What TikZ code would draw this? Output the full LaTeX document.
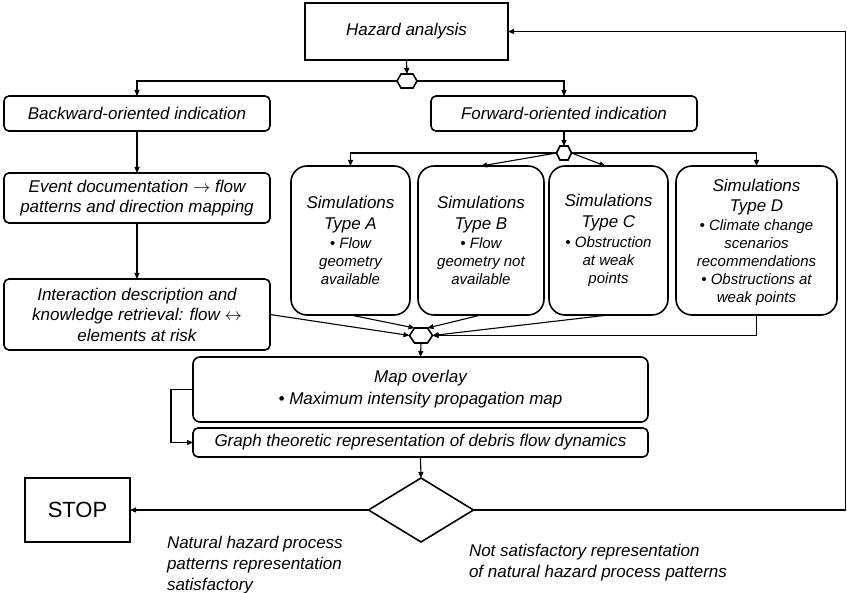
\documentclass[tikz,border=0pt]{standalone}
\usepackage{fontspec}
\setmainfont{Liberation Sans}
\usetikzlibrary{arrows.meta,shapes.geometric,calc}
\newcommand\lgtxt[1]{{\fontsize{17}{20}\selectfont #1}}
\begin{document}
\begin{tikzpicture}[x=1pt,y=-1pt,
  boxline/.style={line width=1.6pt},
  sqbox/.style={draw, boxline, inner sep=0pt, outer sep=0pt, align=center,
    font=\itshape\fontsize{17}{20}\selectfont},
  rbox/.style={draw, boxline, rounded corners=5pt, inner sep=0pt, outer sep=0pt, align=center,
    font=\itshape\fontsize{17}{20.5}\selectfont},
  simbox/.style={draw, boxline, rounded corners=16pt, inner sep=0pt, outer sep=0pt, align=center,
    minimum width=119pt, minimum height=149pt, font=\itshape\fontsize{15}{18}\selectfont},
  hexbox/.style={inner sep=0pt, outer sep=0pt},
  arr/.style={line width=1.1pt, -{Triangle[length=6pt,width=5pt]}},
  lab/.style={inner sep=0pt, outer sep=0pt, align=left, font=\itshape\fontsize{17}{21}\selectfont}
]
\useasboundingbox (0,0) rectangle (847,593);

% top boxes
\node[sqbox, minimum width=203pt, minimum height=57pt] (haz) at (406.5,31.5) {Hazard analysis};
\node[hexbox, minimum width=20pt, minimum height=14pt] (hT) at (407,81) {};
\draw[boxline] ($(hT.north west)+(4,0)$) -- ($(hT.north east)+(-4,0)$) -- (hT.east) -- ($(hT.south east)+(-4,0)$) -- ($(hT.south west)+(4,0)$) -- (hT.west) -- cycle;

\node[rbox, minimum width=266pt, minimum height=35pt] (back) at (137,113.5) {Backward-oriented indication};
\node[rbox, minimum width=266pt, minimum height=35pt] (fwd) at (564,113.5) {Forward-oriented indication};

\node[rbox, minimum width=266pt, minimum height=50pt] (ev) at (137,198) {Event documentation $\rightarrow$ flow\\patterns and direction mapping};
\node[rbox, minimum width=266pt, minimum height=71pt] (inter) at (137,314.5) {Interaction description and\\knowledge retrieval: flow $\leftrightarrow$\\elements at risk};

\node[hexbox, minimum width=15pt, minimum height=14pt] (hF) at (564,153) {};
\draw[boxline] ($(hF.north west)+(3.5,0)$) -- ($(hF.north east)+(-3.5,0)$) -- (hF.east) -- ($(hF.south east)+(-3.5,0)$) -- ($(hF.south west)+(3.5,0)$) -- (hF.west) -- cycle;

% simulations
\node[simbox] (simA) at (350.5,240.5) {\lgtxt{Simulations}\\[3pt]\lgtxt{Type A}\\[1.5pt]• Flow\\geometry\\available};
\node[simbox, minimum width=126pt] (simB) at (481,240.5) {\lgtxt{Simulations}\\[3pt]\lgtxt{Type B}\\[1.5pt]• Flow\\geometry not\\available};
\node[simbox] (simC) at (608.5,240.5) {\lgtxt{Simulations}\\[3pt]\lgtxt{Type C}\\[1.5pt]• Obstruction\\at weak\\points};
\node[simbox, minimum width=161pt, text depth=0pt] (simD) at (756.5,240.5) {\lgtxt{Simulations}\\[2pt]\lgtxt{Type D}\\[1pt]• Climate change\\scenarios\\recommendations\\• Obstructions at\\weak points\rule[-6pt]{0pt}{1pt}};

\node[hexbox, minimum width=23pt, minimum height=15pt] (hB) at (421,335.5) {};
\draw[boxline] ($(hB.north west)+(5,0)$) -- ($(hB.north east)+(-5,0)$) -- (hB.east) -- ($(hB.south east)+(-5,0)$) -- ($(hB.south west)+(5,0)$) -- (hB.west) -- cycle;

\node[rbox, rounded corners=7pt, minimum width=455pt, minimum height=65pt, font=\itshape\fontsize{17}{22}\selectfont] (map) at (420.5,389.5) {Map overlay\\• Maximum intensity propagation map};
\node[rbox, minimum width=455pt, minimum height=29pt] (graph) at (420.5,442.5) {Graph theoretic representation of debris flow dynamics};

\node[draw, boxline, diamond, minimum width=105pt, minimum height=64pt, inner sep=0pt, outer sep=0pt] (dec) at (421,510) {};
\node[sqbox, minimum width=105pt, minimum height=64pt, font=\fontsize{22}{26}\selectfont] (stop) at (77.5,510) {STOP};

\node[lab, anchor=north west] (l1) at (167,536) {Natural hazard process\\patterns representation\\satisfactory};
\node[lab, anchor=north west] (l2) at (469,544) {Not satisfactory representation\\of natural hazard process patterns};

\coordinate (rc) at (845.5,510);

% connectors
\draw[arr] (haz.south) -- (hT.north);
\draw[arr] (hT.west) -| (back.north);
\draw[arr] (hT.east) -| (fwd.north);
\draw[arr] (back.south) -- (ev.north);
\draw[arr] (ev.south) -- (inter.north);
\draw[arr] (fwd.south) -- (hF.north);
\draw[arr] (hF.west) -| (simA.north);
\draw[arr] (hF.west) -- (simB.north);
\draw[arr] (hF.east) -- ($(simC.north)+(-3,0)$);
\draw[arr] (hF.east) -| (simD.north);

\draw[arr] (inter.east) -- (hB.west);
\draw[arr] (simA.south) -- ($(hB.north west)+(5,0)$);
\draw[arr] (simB.south) -- ($(hB.north east)+(-5,0)$);
\draw[arr] (simC.south) -- (hB.east);
\draw[arr] (simD.south) |- (hB.east);
\draw[arr] (hB.south) -- (map.north);
\draw[arr] (map.west) -- ++(-22,0) |- (graph.west);
\draw[arr] (graph.south) -- (dec.north);
\draw[arr] (dec.west) -- (stop.east);
\draw[arr] (dec.east) -- (rc) |- (haz.east);
\end{tikzpicture}
\end{document}
